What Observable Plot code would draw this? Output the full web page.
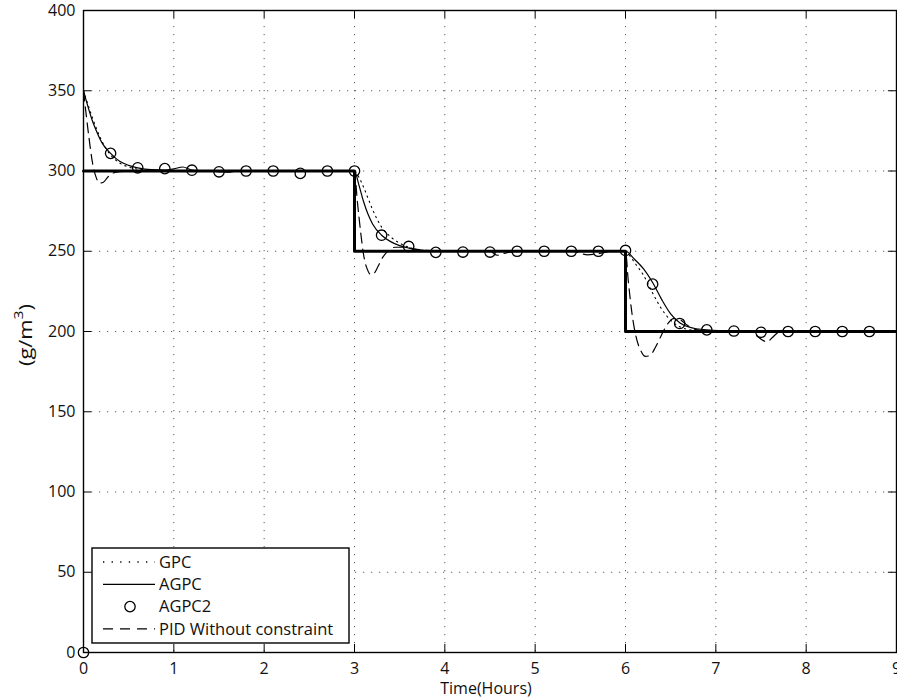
<!DOCTYPE html>
<html>
<head>
<meta charset="utf-8">
<script src="https://cdn.jsdelivr.net/npm/d3@7"></script>
<script src="https://cdn.jsdelivr.net/npm/@observablehq/plot@0.6"></script>
<style>
  html, body { margin: 0; padding: 0; background: #fff; }
  #chart { position: relative; width: 897px; height: 699px; }
</style>
</head>
<body>
<div id="chart"></div>
<script>
const xTicks = [0, 1, 2, 3, 4, 5, 6, 7, 8, 9];
const yTicks = [0, 50, 100, 150, 200, 250, 300, 350, 400];

// Reference (setpoint) – thick line
const tRef = [0, 3, 3, 6, 6, 9];
const yRef = [300, 300, 250, 250, 200, 200];

// GPC (dotted)
const tGPC = [0, 0.1, 0.2, 0.3, 0.4, 0.5, 0.6, 0.8, 1.0, 2.0, 3.0, 3.05, 3.1, 3.15, 3.2, 3.25, 3.3, 3.4, 3.5, 3.6, 3.7, 3.9, 5.0, 6.0, 6.05, 6.1, 6.2, 6.3, 6.4, 6.5, 6.6, 6.7, 6.9, 8.0, 9.0];
const yGPC = [350, 333, 319, 310, 305, 302.5, 301.2, 300.5, 300, 300, 300, 296, 290, 283, 276, 270, 265, 259, 255, 252.5, 251, 250, 250, 250, 247, 243, 235, 224, 214, 207, 203, 201.2, 200.3, 200, 200];

// AGPC (solid)
const tAGPC = [0, 0.05, 0.1, 0.15, 0.2, 0.3, 0.4, 0.5, 0.6, 0.75, 0.9, 1.0, 1.1, 1.2, 1.4, 1.55, 1.7, 2.0, 2.5, 3.0, 3.05, 3.1, 3.15, 3.2, 3.3, 3.4, 3.5, 3.6, 3.7, 3.9, 4.2, 5.0, 6.0, 6.1, 6.2, 6.3, 6.4, 6.5, 6.6, 6.7, 6.9, 7.2, 8.0, 9.0];
const yAGPC = [350, 340, 331, 324, 318, 311, 306, 303.5, 302, 300.8, 300.6, 301.3, 302.5, 300.6, 300, 299.4, 300, 300, 300, 300, 291, 281, 273, 267, 260, 256, 253.5, 252, 251, 250, 250, 250, 250, 245, 239, 230.5, 220, 211, 205.5, 202.8, 201, 200.3, 200, 200];

// AGPC2 (circles)
const tAGPC2 = [0, 0.3, 0.6, 0.9, 1.2, 1.5, 1.8, 2.1, 2.4, 2.7, 3.0, 3.3, 3.6, 3.9, 4.2, 4.5, 4.8, 5.1, 5.4, 5.7, 6.0, 6.3, 6.6, 6.9, 7.2, 7.5, 7.8, 8.1, 8.4, 8.7];
const yAGPC2 = [0, 311, 302, 301.5, 300.5, 299.5, 300, 300, 298.5, 300, 300, 260, 253, 249.3, 249.5, 249.5, 250, 250, 250, 250, 250.5, 229.5, 205, 201, 200.3, 199.5, 200, 200, 200, 200];

// PID without constraint (dashed)
const tPID = [0, 0.03, 0.06, 0.1, 0.14, 0.18, 0.22, 0.26, 0.3, 0.4, 0.6, 1.0, 1.5, 1.6, 1.7, 2.0, 3.0, 3.03, 3.07, 3.1, 3.14, 3.18, 3.22, 3.26, 3.31, 3.38, 3.45, 3.55, 3.65, 3.8, 4.0, 4.5, 4.58, 4.68, 4.8, 5.4, 5.58, 5.7, 5.85, 6.0, 6.03, 6.07, 6.12, 6.17, 6.22, 6.27, 6.33, 6.4, 6.47, 6.53, 6.6, 6.68, 6.78, 7.0, 7.4, 7.46, 7.52, 7.57, 7.62, 7.7, 7.8, 9.0];
const yPID = [350, 335, 321, 305, 296, 292.5, 293, 295.5, 298, 299.6, 300, 300, 300, 299.3, 300, 300, 300, 282, 261, 248, 239, 235.5, 236.5, 240.5, 246, 250.5, 252.5, 252.5, 251.5, 250.5, 250, 250, 247.5, 249, 250, 250, 247.8, 248.5, 250, 250, 232, 212, 196, 188, 184.5, 185, 190, 198, 205, 208, 207.5, 204, 201.2, 200, 200, 197, 194.5, 193.5, 196, 199.5, 200, 200];

const zip = (t, y) => t.map((v, i) => ({t: v, y: y[i]}));
const ref = zip(tRef, yRef);
const gpc = zip(tGPC, yGPC);
const agpc = zip(tAGPC, yAGPC);
const agpc2 = zip(tAGPC2, yAGPC2);
const pid = zip(tPID, yPID);

const FONT = "'Open Sans', 'Liberation Sans', sans-serif";

const chart = Plot.plot({
  width: 897,
  height: 699,
  marginLeft: 83,
  marginRight: 1,
  marginTop: 10,
  marginBottom: 47,
  style: {fontFamily: FONT, fontSize: "16px", color: "#111", background: "#fff"},
  x: {domain: [0, 9], label: null},
  y: {domain: [0, 400], label: null},
  marks: [
    Plot.gridX(xTicks, {stroke: "#333", strokeOpacity: 0.8, strokeDasharray: "1.2,6.8"}),
    Plot.gridY(yTicks, {stroke: "#333", strokeOpacity: 0.8, strokeDasharray: "1.2,6.8"}),
    Plot.ruleX(xTicks, {x: d => d, y1: 0, y2: 5, stroke: "#000", strokeWidth: 1}),
    Plot.ruleX(xTicks, {x: d => d, y1: 400, y2: 395, stroke: "#000", strokeWidth: 1}),
    Plot.ruleY(yTicks, {y: d => d, x1: 0, x2: 0.09, stroke: "#000", strokeWidth: 1}),
    Plot.ruleY(yTicks, {y: d => d, x1: 9, x2: 8.91, stroke: "#000", strokeWidth: 1}),
    Plot.axisX(xTicks, {tickSize: 0, tickPadding: 10, fontSize: 16, tickFormat: d => String(d)}),
    Plot.axisY(yTicks, {tickSize: 0, tickPadding: 8, fontSize: 16, tickFormat: d => String(d)}),
    Plot.frame({stroke: "#000", strokeWidth: 1.4}),
    Plot.line(gpc, {x: "t", y: "y", stroke: "#000", strokeWidth: 1.1, strokeDasharray: "1.3,4.2", curve: "monotone-x"}),
    Plot.line(pid, {x: "t", y: "y", stroke: "#000", strokeWidth: 1.2, strokeDasharray: "10,6", curve: "monotone-x"}),
    Plot.line(agpc, {x: "t", y: "y", stroke: "#000", strokeWidth: 1.2, curve: "monotone-x"}),
    Plot.line(ref, {x: "t", y: "y", stroke: "#000", strokeWidth: 3}),
    Plot.dot(agpc2, {x: "t", y: "y", r: 5.2, stroke: "#000", strokeWidth: 1.3, fill: "none"})
  ]
});

document.getElementById("chart").appendChild(chart);

const svg = d3.select(chart);

// Axis titles
svg.append("text")
  .attr("x", 486).attr("y", 694)
  .attr("text-anchor", "middle")
  .style("font-family", FONT).style("font-size", "16px").attr("fill", "#111")
  .text("Time(Hours)");

const yl = svg.append("text")
  .attr("transform", "translate(32,335) rotate(-90)")
  .attr("text-anchor", "middle")
  .attr("textLength", 62).attr("lengthAdjust", "spacingAndGlyphs")
  .style("font-family", FONT).style("font-size", "18px").attr("fill", "#111");
yl.append("tspan").text("(g/m");
yl.append("tspan").attr("baseline-shift", "super").style("font-size", "13px").text("3");
yl.append("tspan").text(")");

// Legend
const leg = svg.append("g").style("font-family", FONT).style("font-size", "16.5px").attr("text-anchor", "start");
leg.append("rect").attr("x", 92).attr("y", 548).attr("width", 257).attr("height", 95)
  .attr("fill", "#fff").attr("stroke", "#000").attr("stroke-width", 1.4);
const rows = [
  {label: "GPC", type: "dot"},
  {label: "AGPC", type: "solid"},
  {label: "AGPC2", type: "circle"},
  {label: "PID Without constraint", type: "dash"}
];
rows.forEach((r, i) => {
  const cy = 562 + i * 22.3;
  if (r.type === "circle") {
    leg.append("circle").attr("cx", 130).attr("cy", cy).attr("r", 5.2)
      .attr("fill", "none").attr("stroke", "#000").attr("stroke-width", 1.3);
  } else {
    const l = leg.append("line").attr("x1", 103).attr("x2", 155).attr("y1", cy).attr("y2", cy)
      .attr("stroke", "#000").attr("stroke-width", 1.2);
    if (r.type === "dot") l.attr("stroke-dasharray", "1.3,7.3").attr("stroke-width", 1.3);
    if (r.type === "dash") l.attr("stroke-dasharray", "10,7");
  }
  leg.append("text").attr("x", 159).attr("y", cy).attr("dy", "0.35em")
    .attr("text-anchor", "start").attr("fill", "#111").text(r.label);
});
</script>
</body>
</html>
